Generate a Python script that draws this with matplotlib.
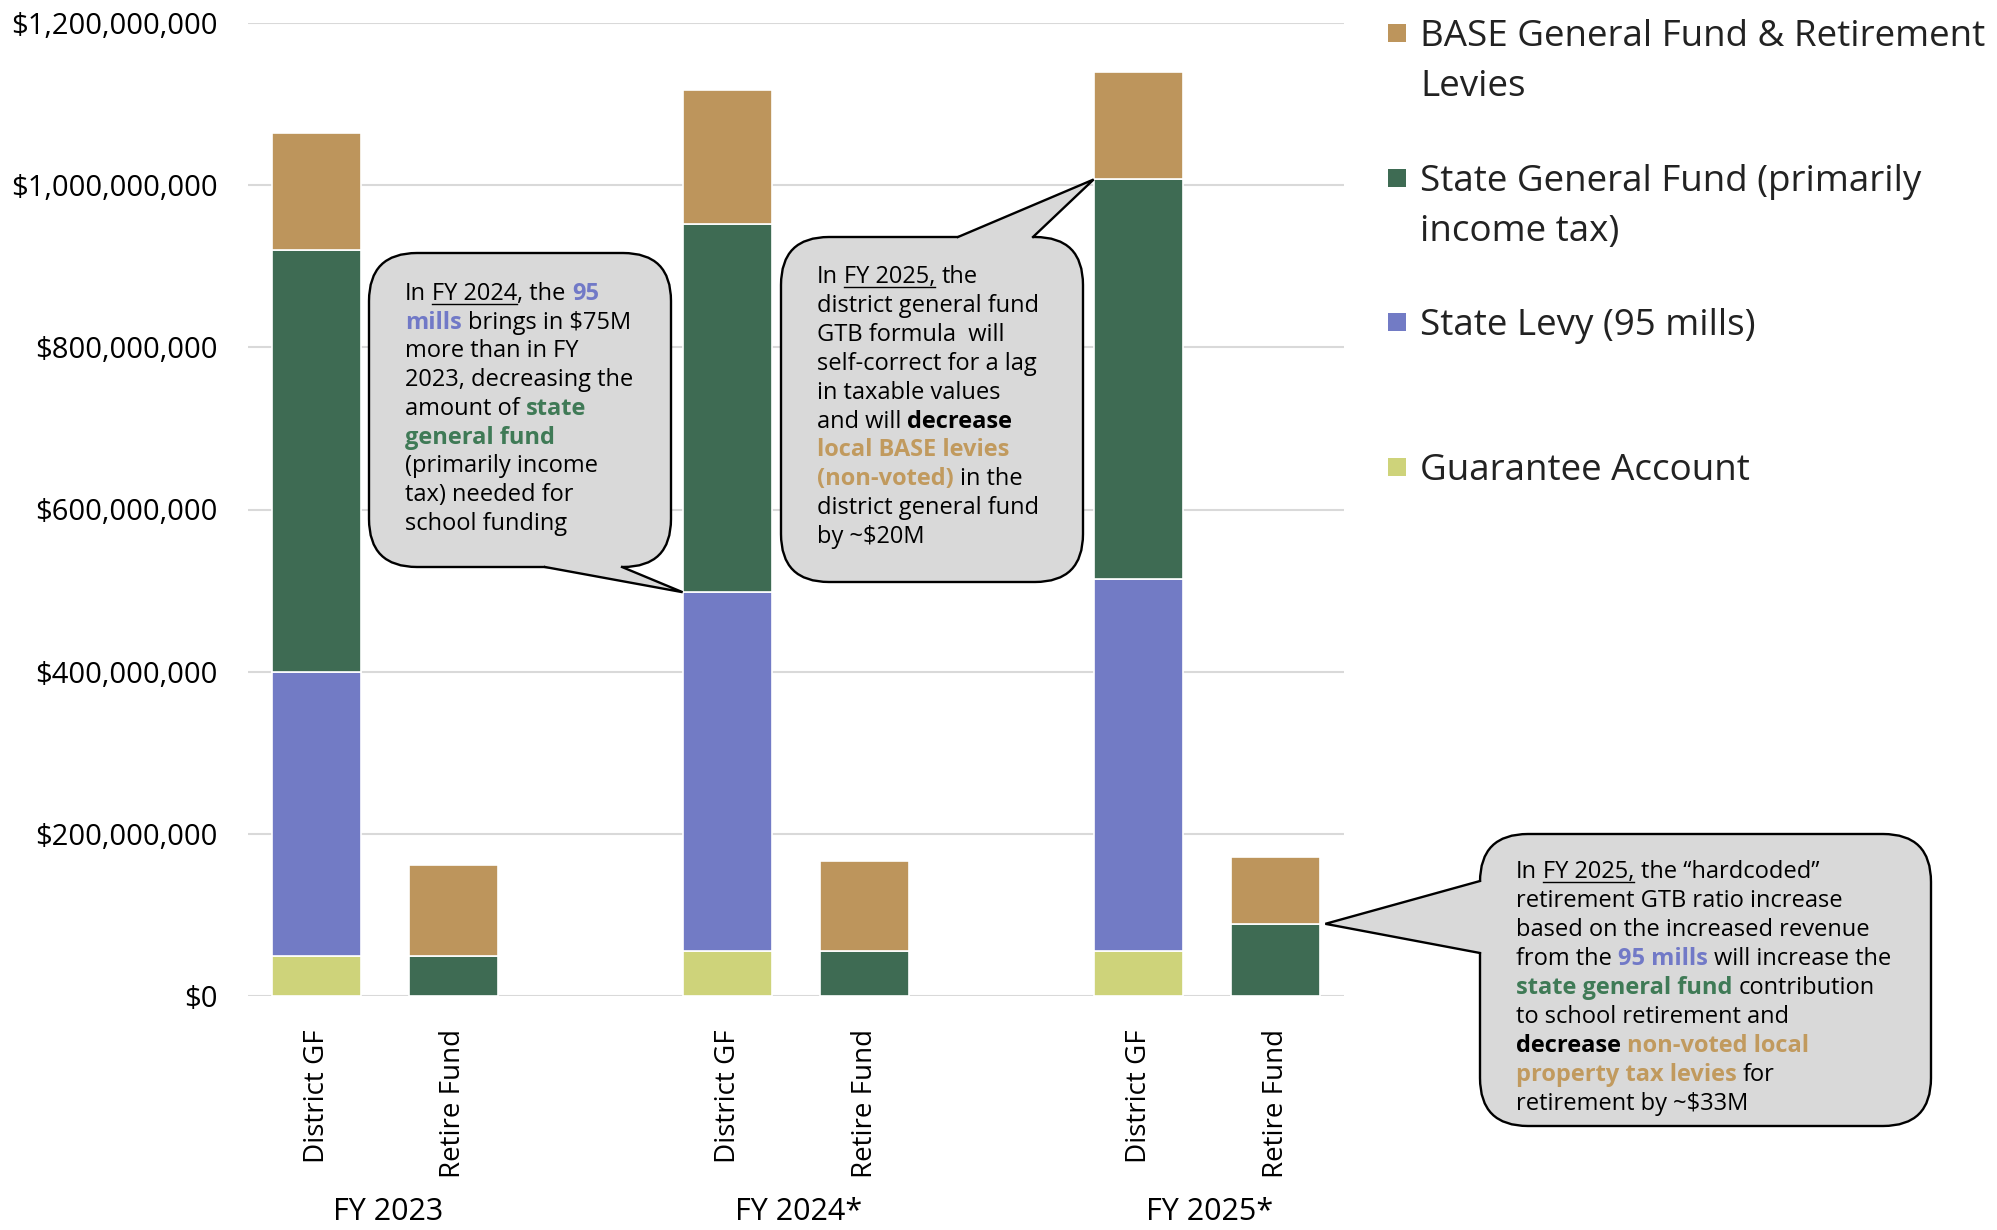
import matplotlib
matplotlib.use("Agg")
import matplotlib.pyplot as plt
import numpy as np
from matplotlib.patches import FancyBboxPatch, Polygon, Rectangle
from matplotlib.ticker import FuncFormatter
from matplotlib.transforms import blended_transform_factory

W, H, DPI = 1997, 1230, 100

# one bar per fund, empty slot between fiscal years
fund_labels = ["District GF", "Retire Fund"] * 3
fund_slots = [0, 1, 3, 4, 6, 7]
year_labels = ["FY 2023", "FY 2024*", "FY 2025*"]
year_centers = [0.5, 3.5, 6.5]

guarantee = [49.7e6, 0, 55e6, 0, 55e6, 0]
state_levy = [350e6, 0, 443e6, 0, 459e6, 0]
state_gf = [520e6, 49e6, 454e6, 55e6, 493e6, 89e6]
base_levies = [145e6, 113e6, 165e6, 111e6, 132e6, 83e6]

legend_labels = [
    "BASE General Fund & Retirement\nLevies",
    "State General Fund (primarily\nincome tax)",
    "State Levy (95 mills)",
    "Guarantee Account",
]

TAN = "#BD955C"
GREEN = "#3E6B53"
BLUE = "#727BC5"
YELLOW = "#CED37A"
GRID = "#D9D9D9"
BUBBLE = "#D9D9D9"

TXT_BLUE = "#7179C7"
TXT_GREEN = "#3F7A56"
TXT_TAN = "#C19A5E"

plt.rcParams["font.family"] = ["Open Sans", "DejaVu Sans"]

fig = plt.figure(figsize=(W / DPI, H / DPI), dpi=DPI)
fig.patch.set_facecolor("white")
ax = fig.add_axes([248 / W, 1 - 996 / H, (1344 - 248) / W, (996 - 23) / H])

BAR_W = 0.655
bottom = np.zeros(len(fund_slots))
for vals, color in zip([guarantee, state_levy, state_gf, base_levies],
                       [YELLOW, BLUE, GREEN, TAN]):
    vals = np.array(vals)
    keep = vals > 0
    ax.bar(np.array(fund_slots)[keep], vals[keep], BAR_W, bottom=bottom[keep],
           color=color, edgecolor="white", linewidth=1.2)
    bottom += vals

ax.set_xlim(-0.5, 7.5)
ax.set_ylim(0, 1.2e9)
ax.set_yticks(np.arange(0, 1.2e9 + 1, 2e8))
ax.yaxis.set_major_formatter(FuncFormatter(lambda v, p: f"${v:,.0f}"))
ax.grid(axis="y", color=GRID, linewidth=1.5)
ax.set_axisbelow(True)
for sp in ax.spines.values():
    sp.set_visible(False)
ax.tick_params(axis="y", length=0, pad=22, labelsize=21)
ax.set_xticks(fund_slots, fund_labels, rotation=90, fontsize=20)
ax.tick_params(axis="x", length=0, pad=24)

tr = blended_transform_factory(ax.transData, fig.transFigure)
for xc, lab in zip(year_centers, year_labels):
    ax.text(xc + 0.02, 1 - 1220 / H, lab, transform=tr, ha="center", va="baseline", fontsize=22)

# overlay in pixel units (y down) for legend and callouts
ov = fig.add_axes([0, 0, 1, 1], zorder=10)
ov.set_xlim(0, W)
ov.set_ylim(H, 0)
ov.axis("off")

def to_px(x, y):
    px, py = ax.transData.transform((x, y))
    return px, H - py

# legend
for lab, color, yc in zip(legend_labels, [TAN, GREEN, BLUE, YELLOW], [33, 178, 322, 467]):
    ov.add_patch(Rectangle((1388, yc - 9), 18, 18, fc=color, ec="none"))
    for i, line in enumerate(lab.split("\n")):
        ov.text(1420, yc + 13 + i * 50, line, fontsize=26.5, va="baseline", ha="left",
                color="#222222")

# callouts
CS = 17
STYLES = {
    "n": dict(color="black"),
    "u": dict(color="black"),
    "b": dict(color="black", fontweight="bold"),
    "blue": dict(color=TXT_BLUE, fontweight="bold"),
    "green": dict(color=TXT_GREEN, fontweight="bold"),
    "tan": dict(color=TXT_TAN, fontweight="bold"),
}
renderer = fig.canvas.get_renderer()

def text_width(s, **kw):
    t = ov.text(0, 0, s, fontsize=CS, **kw)
    w = t.get_window_extent(renderer).width
    t.remove()
    return w

space_w = text_width("n n") - text_width("nn")

def draw_line(x, y, segments):
    for s, style in segments:
        if s.startswith(" "):
            x += space_w
            s = s.lstrip()
        t = ov.text(x, y, s, fontsize=CS, va="baseline", ha="left", **STYLES[style])
        w = t.get_window_extent(renderer).width
        if style == "u":
            ov.plot([x, x + w], [y + 3.5, y + 3.5], color="black", lw=1.0)
        x += w

def callout(box, b1, tip, b2, inward, lines, x0, y0, dy):
    x, y, w, h = box
    ov.add_patch(FancyBboxPatch((x, y), w, h, boxstyle="round,pad=0,rounding_size=48",
                                fc=BUBBLE, ec="black", lw=1.7))
    ix, iy = inward
    ov.add_patch(Polygon([b1, tip, b2, (b2[0] + ix, b2[1] + iy), (b1[0] + ix, b1[1] + iy)],
                         closed=True, fc=BUBBLE, ec="none"))
    ov.plot([b1[0], tip[0], b2[0]], [b1[1], tip[1], b2[1]], color="black", lw=1.7,
            solid_joinstyle="miter")
    for i, segs in enumerate(lines):
        draw_line(x0, y0 + i * dy, segs)

note_2024 = [
    [("In", "n"), (" FY 2024", "u"), (", the", "n"), (" 95", "blue")],
    [("mills", "blue"), (" brings in $75M", "n")],
    [("more than in FY", "n")],
    [("2023, decreasing the", "n")],
    [("amount of", "n"), (" state", "green")],
    [("general fund", "green")],
    [("(primarily income", "n")],
    [("tax) needed for", "n")],
    [("school funding", "n")],
]
note_gf_2025 = [
    [("In", "n"), (" FY 2025,", "u"), (" the", "n")],
    [("district general fund", "n")],
    [("GTB formula  will", "n")],
    [("self-correct for a lag", "n")],
    [("in taxable values", "n")],
    [("and will", "n"), (" decrease", "b")],
    [("local BASE levies", "tan")],
    [("(non-voted)", "tan"), (" in the", "n")],
    [("district general fund", "n")],
    [("by ~$20M", "n")],
]
note_rf_2025 = [
    [("In", "n"), (" FY 2025,", "u"), (" the \u201chardcoded\u201d", "n")],
    [("retirement GTB ratio increase", "n")],
    [("based on the increased revenue", "n")],
    [("from the", "n"), (" 95 mills", "blue"), (" will increase the", "n")],
    [("state general fund", "green"), (" contribution", "n")],
    [("to school retirement and", "n")],
    [("decrease", "b"), (" non-voted local", "tan")],
    [("property tax levies", "tan"), (" for", "n")],
    [("retirement by ~$33M", "n")],
]

tip1 = to_px(3 - BAR_W / 2, guarantee[2] + state_levy[2])
callout((369, 253, 302, 314), (545, 567), tip1, (622, 567), (0, -4),
        note_2024, 405, 300, 28.7)

tip2 = to_px(6 - BAR_W / 2, guarantee[4] + state_levy[4] + state_gf[4])
callout((781, 237, 302, 345), (958, 237), tip2, (1033, 237), (0, 4),
        note_gf_2025, 817, 283, 28.9)

tip3 = to_px(7 + BAR_W / 2, state_gf[5])
tip3 = (tip3[0] + 5, tip3[1])
callout((1480, 834, 451, 292), (1480, 881), tip3, (1480, 953), (4, 0),
        note_rf_2025, 1516, 878, 29)

fig.savefig("out.png", dpi=DPI)
